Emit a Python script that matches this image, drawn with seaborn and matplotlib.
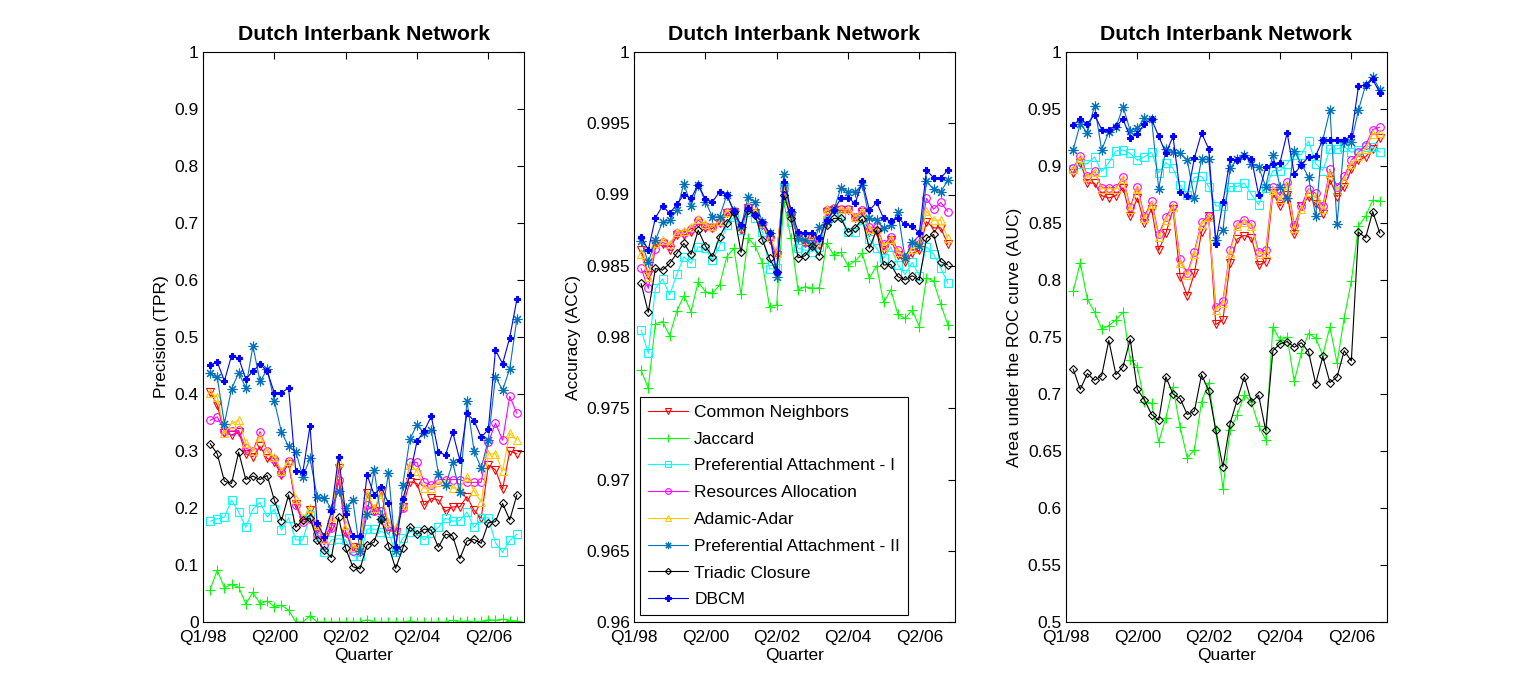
import numpy as np
import pandas as pd
import matplotlib
matplotlib.use("Agg")
import matplotlib.pyplot as plt
import seaborn as sns
from matplotlib.ticker import FuncFormatter

# --- data ---
quarters = list(range(1, 45))
xtick_pos = [0, 10, 20, 30, 40]
xtick_labels = ['Q1/98', 'Q2/00', 'Q2/02', 'Q2/04', 'Q2/06']

methods = ['Common Neighbors', 'Jaccard', 'Preferential Attachment - I',
           'Resources Allocation', 'Adamic-Adar',
           'Preferential Attachment - II', 'Triadic Closure', 'DBCM']

# precision (TPR)
prec_cn = [0.404, 0.380, 0.332, 0.328, 0.334, 0.295, 0.290, 0.308, 0.287, 0.281, 0.258, 0.278, 0.207, 0.179, 0.196,
           0.164, 0.150, 0.167, 0.270, 0.156, 0.132, 0.129, 0.226, 0.194, 0.229, 0.161, 0.158, 0.202, 0.246, 0.243,
           0.205, 0.217, 0.214, 0.194, 0.202, 0.202, 0.220, 0.196, 0.182, 0.275, 0.267, 0.233, 0.300, 0.295]
prec_jac = [0.057, 0.091, 0.060, 0.066, 0.061, 0.032, 0.052, 0.032, 0.037, 0.027, 0.029, 0.021, 0.0, 0.0, 0.011,
            0.0, 0.0, 0.0, 0.0, 0.0, 0.0, 0.0, 0.004, 0.0, 0.0, 0.0, 0.0, 0.0, 0.002, 0.0,
            0.0, 0.0, 0.0, 0.0, 0.003, 0.0, 0.002, 0.0, 0.001, 0.004, 0.003, 0.005, 0.002, 0.002]
prec_pa1 = [0.177, 0.181, 0.184, 0.214, 0.193, 0.166, 0.198, 0.210, 0.184, 0.198, 0.161, 0.183, 0.144, 0.144, 0.187,
            0.150, 0.123, 0.144, 0.146, 0.144, 0.116, 0.115, 0.163, 0.163, 0.158, 0.157, 0.122, 0.147, 0.158, 0.160,
            0.144, 0.156, 0.166, 0.182, 0.177, 0.178, 0.193, 0.166, 0.182, 0.183, 0.139, 0.122, 0.143, 0.154]
prec_ra = [0.354, 0.360, 0.335, 0.335, 0.336, 0.305, 0.300, 0.334, 0.300, 0.286, 0.262, 0.282, 0.205, 0.175, 0.180,
           0.155, 0.135, 0.165, 0.250, 0.158, 0.125, 0.125, 0.205, 0.195, 0.195, 0.168, 0.160, 0.200, 0.280, 0.280,
           0.245, 0.240, 0.250, 0.250, 0.250, 0.250, 0.245, 0.245, 0.245, 0.315, 0.349, 0.319, 0.396, 0.366]
prec_aa = [0.401, 0.395, 0.331, 0.348, 0.354, 0.314, 0.300, 0.325, 0.300, 0.290, 0.265, 0.283, 0.215, 0.182, 0.200,
           0.170, 0.145, 0.185, 0.280, 0.170, 0.132, 0.130, 0.225, 0.200, 0.225, 0.175, 0.165, 0.205, 0.275, 0.265,
           0.235, 0.235, 0.245, 0.245, 0.235, 0.235, 0.255, 0.230, 0.210, 0.295, 0.295, 0.265, 0.331, 0.319]
prec_pa2 = [0.436, 0.429, 0.348, 0.409, 0.437, 0.411, 0.484, 0.422, 0.443, 0.388, 0.333, 0.308, 0.299, 0.255, 0.287,
            0.220, 0.217, 0.199, 0.230, 0.200, 0.214, 0.125, 0.190, 0.267, 0.180, 0.262, 0.125, 0.240, 0.321, 0.346,
            0.331, 0.337, 0.260, 0.240, 0.280, 0.228, 0.388, 0.300, 0.270, 0.320, 0.430, 0.407, 0.444, 0.532]
prec_tc = [0.313, 0.295, 0.247, 0.243, 0.298, 0.250, 0.256, 0.250, 0.257, 0.214, 0.178, 0.223, 0.166, 0.179, 0.182,
           0.144, 0.126, 0.113, 0.184, 0.129, 0.097, 0.093, 0.135, 0.140, 0.181, 0.134, 0.094, 0.129, 0.167, 0.154,
           0.163, 0.161, 0.131, 0.154, 0.151, 0.111, 0.142, 0.145, 0.138, 0.174, 0.176, 0.208, 0.179, 0.223]
prec_dbcm = [0.451, 0.456, 0.423, 0.467, 0.463, 0.426, 0.440, 0.452, 0.440, 0.402, 0.402, 0.411, 0.265, 0.263, 0.344,
             0.173, 0.150, 0.194, 0.290, 0.190, 0.151, 0.151, 0.258, 0.223, 0.237, 0.208, 0.132, 0.215, 0.258, 0.317,
             0.335, 0.361, 0.298, 0.293, 0.333, 0.284, 0.366, 0.353, 0.324, 0.338, 0.477, 0.453, 0.499, 0.566]

# accuracy (ACC)
acc_cn = [0.98610, 0.98435, 0.98650, 0.98650, 0.98610, 0.98715, 0.98715, 0.98738, 0.98797, 0.98766, 0.98762,
          0.98797, 0.98867, 0.98879, 0.98750, 0.98902, 0.98867, 0.98785, 0.98680, 0.98575, 0.99054, 0.98855,
          0.98692, 0.98657, 0.98692, 0.98645, 0.98879, 0.98890, 0.98890, 0.98890, 0.98832, 0.98879, 0.98738,
          0.98738, 0.98610, 0.98680, 0.98575, 0.98528, 0.98587, 0.98610, 0.98808, 0.98766, 0.98766, 0.98650]
acc_jac = [0.97766, 0.97640, 0.98094, 0.98108, 0.98010, 0.98182, 0.98290, 0.98178, 0.98388, 0.98318, 0.98306,
           0.98365, 0.98563, 0.98622, 0.98299, 0.98692, 0.98640, 0.98516, 0.98213, 0.98224, 0.98949, 0.98692,
           0.98330, 0.98353, 0.98341, 0.98346, 0.98657, 0.98575, 0.98594, 0.98500, 0.98533, 0.98587, 0.98411,
           0.98500, 0.98243, 0.98330, 0.98159, 0.98131, 0.98189, 0.98073, 0.98416, 0.98393, 0.98229, 0.98084]
acc_pa1 = [0.98049, 0.97886, 0.98341, 0.98407, 0.98295, 0.98439, 0.98563, 0.98516, 0.98633, 0.98622, 0.98540,
           0.98640, 0.98785, 0.98843, 0.98750, 0.98879, 0.98832, 0.98738, 0.98477, 0.98481, 0.99054, 0.98808,
           0.98622, 0.98610, 0.98598, 0.98633, 0.98820, 0.98850, 0.98850, 0.98738, 0.98738, 0.98820, 0.98687,
           0.98622, 0.98551, 0.98633, 0.98505, 0.98439, 0.98523, 0.98430, 0.98633, 0.98580, 0.98486, 0.98376]
acc_ra = [0.98481, 0.98341, 0.98620, 0.98665, 0.98640, 0.98730, 0.98730, 0.98760, 0.98820, 0.98780, 0.98775,
          0.98810, 0.98875, 0.98885, 0.98765, 0.98910, 0.98872, 0.98795, 0.98700, 0.98590, 0.99040, 0.98860,
          0.98700, 0.98670, 0.98705, 0.98660, 0.98890, 0.98905, 0.98900, 0.98900, 0.98845, 0.98890, 0.98770,
          0.98770, 0.98650, 0.98700, 0.98610, 0.98560, 0.98640, 0.98680, 0.98972, 0.98897, 0.98944, 0.98880]
acc_aa = [0.98580, 0.98420, 0.98660, 0.98680, 0.98650, 0.98740, 0.98745, 0.98770, 0.98830, 0.98790, 0.98780,
          0.98815, 0.98880, 0.98890, 0.98775, 0.98915, 0.98880, 0.98800, 0.98700, 0.98590, 0.99060, 0.98865,
          0.98710, 0.98680, 0.98715, 0.98670, 0.98895, 0.98905, 0.98900, 0.98895, 0.98845, 0.98885, 0.98760,
          0.98760, 0.98640, 0.98690, 0.98600, 0.98560, 0.98620, 0.98660, 0.98883, 0.98820, 0.98820, 0.98692]
acc_pa2 = [0.98673, 0.98523, 0.98680, 0.98808, 0.98820, 0.98890, 0.99077, 0.98921, 0.99070, 0.98949, 0.98843,
           0.98843, 0.98995, 0.98883, 0.98773, 0.98984, 0.98944, 0.98808, 0.98727, 0.98423, 0.99147, 0.98879,
           0.98692, 0.98680, 0.98645, 0.98773, 0.98804, 0.98890, 0.99047, 0.99019, 0.99019, 0.99070, 0.98832,
           0.98820, 0.98762, 0.98785, 0.98874, 0.98556, 0.98664, 0.98640, 0.99093, 0.99037, 0.99019, 0.99100]
acc_tc = [0.98376, 0.98173, 0.98481, 0.98470, 0.98516, 0.98587, 0.98657, 0.98580, 0.98750, 0.98640, 0.98563,
          0.98703, 0.98797, 0.98874, 0.98594, 0.98890, 0.98855, 0.98680, 0.98551, 0.98458, 0.99000, 0.98836,
          0.98556, 0.98570, 0.98640, 0.98570, 0.98785, 0.98832, 0.98832, 0.98734, 0.98766, 0.98827, 0.98622,
          0.98750, 0.98505, 0.98509, 0.98423, 0.98400, 0.98430, 0.98400, 0.98692, 0.98720, 0.98528, 0.98505]
acc_dbcm = [0.98703, 0.98610, 0.98836, 0.98921, 0.98867, 0.98930, 0.99000, 0.98972, 0.99070, 0.98967, 0.98949,
            0.99019, 0.99000, 0.98883, 0.98785, 0.98907, 0.98855, 0.98808, 0.98727, 0.98458, 0.99089, 0.98890,
            0.98740, 0.98727, 0.98727, 0.98692, 0.98820, 0.98890, 0.98972, 0.98977, 0.98937, 0.99093, 0.98890,
            0.98944, 0.98832, 0.98813, 0.98836, 0.98790, 0.98780, 0.98727, 0.99171, 0.99117, 0.99117, 0.99171]

# area under the ROC curve (AUC)
auc_cn = [0.894, 0.903, 0.885, 0.885, 0.874, 0.872, 0.874, 0.881, 0.856, 0.872, 0.850, 0.862, 0.826, 0.841, 0.862,
          0.803, 0.786, 0.806, 0.842, 0.856, 0.761, 0.765, 0.815, 0.836, 0.839, 0.837, 0.813, 0.816, 0.876, 0.865,
          0.875, 0.840, 0.865, 0.873, 0.867, 0.858, 0.888, 0.873, 0.882, 0.897, 0.905, 0.908, 0.915, 0.925]
auc_jac = [0.790, 0.815, 0.783, 0.772, 0.757, 0.760, 0.765, 0.772, 0.730, 0.724, 0.693, 0.692, 0.658, 0.679, 0.706,
           0.671, 0.644, 0.651, 0.693, 0.710, 0.668, 0.617, 0.668, 0.682, 0.699, 0.693, 0.672, 0.660, 0.759, 0.747,
           0.750, 0.711, 0.736, 0.753, 0.749, 0.734, 0.759, 0.727, 0.767, 0.799, 0.847, 0.856, 0.870, 0.869]
auc_pa1 = [0.897, 0.902, 0.902, 0.908, 0.895, 0.903, 0.913, 0.914, 0.911, 0.905, 0.908, 0.912, 0.894, 0.903, 0.898,
           0.883, 0.875, 0.890, 0.891, 0.882, 0.865, 0.865, 0.882, 0.882, 0.885, 0.875, 0.866, 0.881, 0.896, 0.896,
           0.902, 0.910, 0.910, 0.922, 0.902, 0.896, 0.915, 0.915, 0.917, 0.912, 0.914, 0.917, 0.917, 0.912]
auc_ra = [0.898, 0.909, 0.891, 0.896, 0.881, 0.881, 0.881, 0.890, 0.864, 0.882, 0.856, 0.869, 0.840, 0.855, 0.866,
          0.818, 0.806, 0.825, 0.851, 0.856, 0.776, 0.782, 0.826, 0.849, 0.853, 0.849, 0.825, 0.826, 0.882, 0.874,
          0.886, 0.848, 0.865, 0.880, 0.876, 0.865, 0.897, 0.882, 0.891, 0.905, 0.912, 0.918, 0.932, 0.934]
auc_aa = [0.897, 0.907, 0.890, 0.895, 0.880, 0.880, 0.880, 0.889, 0.862, 0.880, 0.854, 0.867, 0.838, 0.853, 0.864,
          0.815, 0.804, 0.823, 0.849, 0.855, 0.774, 0.780, 0.824, 0.847, 0.851, 0.847, 0.823, 0.824, 0.879, 0.871,
          0.883, 0.846, 0.862, 0.877, 0.873, 0.862, 0.894, 0.879, 0.888, 0.902, 0.909, 0.915, 0.928, 0.929]
auc_pa2 = [0.914, 0.937, 0.929, 0.953, 0.914, 0.930, 0.934, 0.952, 0.931, 0.933, 0.942, 0.941, 0.880, 0.915, 0.912,
           0.911, 0.905, 0.872, 0.906, 0.906, 0.835, 0.844, 0.898, 0.906, 0.910, 0.902, 0.899, 0.882, 0.910, 0.882,
           0.872, 0.913, 0.902, 0.890, 0.856, 0.923, 0.949, 0.849, 0.921, 0.921, 0.949, 0.971, 0.978, 0.967]
auc_tc = [0.722, 0.704, 0.718, 0.712, 0.716, 0.747, 0.717, 0.724, 0.748, 0.704, 0.695, 0.682, 0.677, 0.715, 0.700,
          0.696, 0.682, 0.685, 0.717, 0.703, 0.668, 0.636, 0.674, 0.695, 0.715, 0.693, 0.699, 0.668, 0.738, 0.744,
          0.746, 0.741, 0.745, 0.737, 0.709, 0.733, 0.710, 0.715, 0.738, 0.729, 0.842, 0.837, 0.860, 0.841]
auc_dbcm = [0.936, 0.941, 0.937, 0.945, 0.932, 0.932, 0.935, 0.941, 0.925, 0.928, 0.937, 0.941, 0.926, 0.911, 0.926,
            0.877, 0.874, 0.907, 0.929, 0.915, 0.832, 0.868, 0.906, 0.905, 0.909, 0.906, 0.875, 0.899, 0.902, 0.903,
            0.929, 0.893, 0.901, 0.908, 0.909, 0.923, 0.923, 0.923, 0.923, 0.926, 0.970, 0.971, 0.976, 0.964]

# --- styles (MATLAB-like) ---
colors = ['#FF0000', '#00FF00', '#00FFFF', '#FF00FF', '#FFC800', '#0072BD', '#000000', '#0000FF']
markers = ['v', '+', 's', 'o', '^', (8, 2, 0), 'D', 'P']
filled = [False, False, False, False, False, False, False, True]
msizes = [5.5, 7, 5.5, 5.5, 5.5, 7, 4.2, 5]

sns.set_style('white')
plt.rcParams['font.family'] = ['Liberation Sans', 'DejaVu Sans']
plt.rcParams['font.size'] = 12.5
plt.rcParams['text.color'] = 'black'
plt.rcParams['axes.labelcolor'] = 'black'
plt.rcParams['axes.titlecolor'] = 'black'

fig = plt.figure(figsize=(15.37, 7.0), dpi=100)
W, H = 1537.0, 700.0
lefts = [203, 634, 1066]
ax_w = 321
bottom = (H - 622) / H
height = 570 / H

panels = [
    ([prec_cn, prec_jac, prec_pa1, prec_ra, prec_aa, prec_pa2, prec_tc, prec_dbcm],
     'Precision (TPR)', (0, 1), np.linspace(0, 1, 11)),
    ([acc_cn, acc_jac, acc_pa1, acc_ra, acc_aa, acc_pa2, acc_tc, acc_dbcm],
     'Accuracy (ACC)', (0.96, 1), np.linspace(0.96, 1, 9)),
    ([auc_cn, auc_jac, auc_pa1, auc_ra, auc_aa, auc_pa2, auc_tc, auc_dbcm],
     'Area under the ROC curve (AUC)', (0.5, 1), np.linspace(0.5, 1, 11)),
]

axes = []
for k, (series, ylab, ylim, yticks) in enumerate(panels):
    ax = fig.add_axes([lefts[k] / W, bottom, ax_w / W, height])
    for j, vals in enumerate(series):
        df = pd.DataFrame({'quarter': quarters, 'value': vals})
        sns.lineplot(data=df, x='quarter', y='value', ax=ax, color=colors[j],
                     marker=markers[j], markersize=msizes[j],
                     markerfacecolor=colors[j] if filled[j] else 'none',
                     markeredgecolor=colors[j], markeredgewidth=0.8,
                     linewidth=0.8, label=methods[j])
    ax.set_xlim(0, 45)
    ax.set_ylim(*ylim)
    ax.set_xticks(xtick_pos)
    ax.set_xticklabels(xtick_labels)
    ax.set_yticks(yticks)
    ax.yaxis.set_major_formatter(FuncFormatter(lambda v, p: f"{round(v, 3):g}"))
    ax.set_xlabel('Quarter', labelpad=2, color='black')
    ax.set_ylabel(ylab, labelpad=4, color='black')
    ax.set_title('Dutch Interbank Network', fontsize=15.3, fontweight='bold', pad=9, color='black')
    ax.tick_params(direction='in', top=True, right=True, length=5, width=0.8,
                   labelsize=12.5, pad=3, colors='black')
    ax.tick_params(axis='x', pad=6)
    for sp in ax.spines.values():
        sp.set_color('black')
        sp.set_linewidth(0.8)
    leg = ax.get_legend()
    if leg is not None:
        leg.remove()
    axes.append(ax)

handles, labels = axes[1].get_legend_handles_labels()
leg = axes[1].legend(handles, labels, loc='lower left', bbox_to_anchor=(0.02, 0.012),
                     borderaxespad=0, fontsize=12.5, frameon=True, fancybox=False,
                     edgecolor='black', framealpha=1, labelspacing=0.67,
                     handlelength=2.3, handletextpad=0.35, borderpad=0.45,
                     markerscale=0.75)
leg.get_frame().set_linewidth(0.8)
for t in leg.get_texts():
    t.set_color('black')

fig.savefig('out.png', dpi=100, facecolor='white')
